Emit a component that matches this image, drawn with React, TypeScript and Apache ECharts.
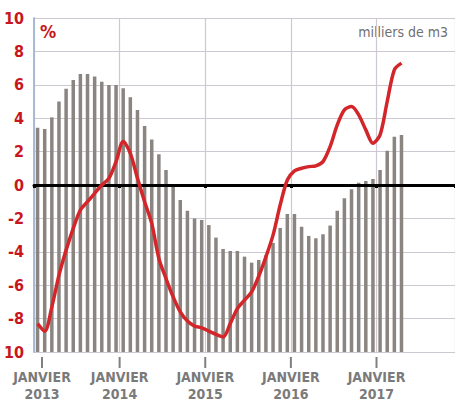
import React, { useEffect, useRef } from "react";
import * as echarts from "echarts";

const years = ["2013", "2014", "2015", "2016", "2017"];
const monthLabel = "JANVIER";

// Gray bars (milliers de m3, drawn on a hidden axis from the chart bottom)
const barValues = [
  3.43, 3.35, 4.05, 5.0, 5.77, 6.29, 6.65, 6.65, 6.49, 6.19, 5.99, 5.99,
  5.79, 5.25, 4.49, 3.53, 2.72, 1.84, 0.9, -0.1, -0.9, -1.54, -2.0, -2.1,
  -2.4, -3.15, -3.83, -3.95, -3.95, -4.29, -4.65, -4.49, -4.2, -3.47, -2.57, -1.74,
  -1.74, -2.5, -3.05, -3.19, -2.95, -2.43, -1.54, -0.8, -0.26, 0.14, 0.24, 0.36,
  0.9, 2.05, 2.89, 2.99,
];

// Red line (%)
const lineValues = [
  -8.3, -8.75, -7.3, -5.4, -3.9, -2.6, -1.5, -1.0, -0.5, 0.0, 0.4, 1.4,
  2.6, 1.9, 0.4, -1.0, -2.3, -4.4, -5.6, -6.7, -7.6, -8.15, -8.45, -8.55,
  -8.75, -8.95, -9.1, -8.3, -7.4, -6.9, -6.4, -5.45, -4.3, -3.0, -1.2, 0.3,
  0.85, 1.0, 1.1, 1.15, 1.4, 2.3, 3.6, 4.5, 4.7, 4.2, 3.3, 2.5,
  3.0, 5.0, 6.9, 7.3,
];

const FONT = "'Liberation Sans Narrow', 'DejaVu Sans Condensed', 'Arial Narrow', 'Liberation Sans', sans-serif";

export default function App() {
  const ref = useRef<HTMLDivElement>(null);
  useEffect(() => {
    if (!ref.current) return;
    const chart = echarts.init(ref.current, null, { renderer: "svg" });
    const xMin = 0;
    const xMax = 59;
    const option = {
      animation: false,
      backgroundColor: "#ffffff",
      grid: { left: 34, right: 0, top: 18, bottom: 51, containLabel: false },
      xAxis: [
        {
          type: "value",
          min: xMin,
          max: xMax,
          interval: 12,
          position: "bottom",
          axisLine: { show: false, onZero: false },
          axisTick: { show: false },
          splitLine: { show: true, lineStyle: { color: "#cdc8d2", width: 1.2 } },
          axisLabel: {
            show: true,
            margin: 5,
            showMaxLabel: false,
            formatter: (v: number) => {
              if (v % 12 !== 0) return "";
              const idx = v / 12;
              const y = years[idx];
              if (y === undefined) return "";
              if (idx === 0) return `{p|}{t|}\n{p|}{a|${monthLabel}}\n{p|}{a|${y}}`;
              return `{t|}\n{a|${monthLabel}}\n{a|${y}}`;
            },
            rich: {
              p: { width: 16, height: 1 },
              t: { width: 2, height: 11, backgroundColor: "#808080" },
              a: { fontFamily: FONT, fontWeight: "bold", fontSize: 14, color: "#7a7a7a", lineHeight: 17 },
            },
          },
        },
        {
          type: "value",
          min: xMin,
          max: xMax,
          interval: 12,
          position: "bottom",
          z: 3,
          axisLine: { show: true, onZero: true, onZeroAxisIndex: 0, lineStyle: { color: "#000000", width: 3 } },
          axisTick: { show: true, length: 3, inside: false, lineStyle: { color: "#000000", width: 3 } },
          axisLabel: { show: false },
          splitLine: { show: false },
        },
      ],
      yAxis: [
        {
          type: "value",
          min: -10,
          max: 10,
          interval: 2,
          position: "left",
          axisLine: { show: true, onZero: false, lineStyle: { color: "#a9bad6", width: 2 } },
          axisTick: { show: false },
          splitLine: { show: true, lineStyle: { color: "#cdc8d2", width: 1.2 } },
          axisLabel: {
            margin: 10,
            fontFamily: FONT,
            fontWeight: "bold",
            fontSize: 16,
            color: "#c8161d",
            formatter: (v: number) => (v === -10 ? "10" : String(v)),
          },
        },
        {
          type: "value",
          min: 0,
          max: 20,
          show: false,
          position: "right",
          axisLine: { onZero: false },
          splitLine: { show: false },
        },
      ],
      graphic: [
        {
          type: "text",
          left: 40,
          top: 22,
          style: { text: "%", fontFamily: FONT, fontWeight: "bold", fontSize: 18, fill: "#c8161d" },
        },
        {
          type: "text",
          right: 7,
          top: 25,
          style: { text: "milliers de m3", fontFamily: FONT, fontSize: 14, fill: "#707070" },
        },
      ],
      series: [
        {
          type: "bar",
          xAxisIndex: 0,
          yAxisIndex: 1,
          barWidth: 3.5,
          z: 2,
          itemStyle: { color: "#8b8581" },
          data: barValues.map((v, i) => [i + 0.5, v + 10]),
        },
        {
          type: "line",
          xAxisIndex: 0,
          yAxisIndex: 0,
          z: 4,
          smooth: 0.3,
          symbol: "none",
          lineStyle: { color: "#d3262a", width: 3.5 },
          data: lineValues.map((v, i) => [i + 0.5, v]),
        },
      ],
    };
    chart.setOption(option as any);
    return () => chart.dispose();
  }, []);
  return (
    <div
      ref={ref}
      style={{ position: "absolute", left: 0, top: 0, width: 455, height: 403 }}
    />
  );
}
